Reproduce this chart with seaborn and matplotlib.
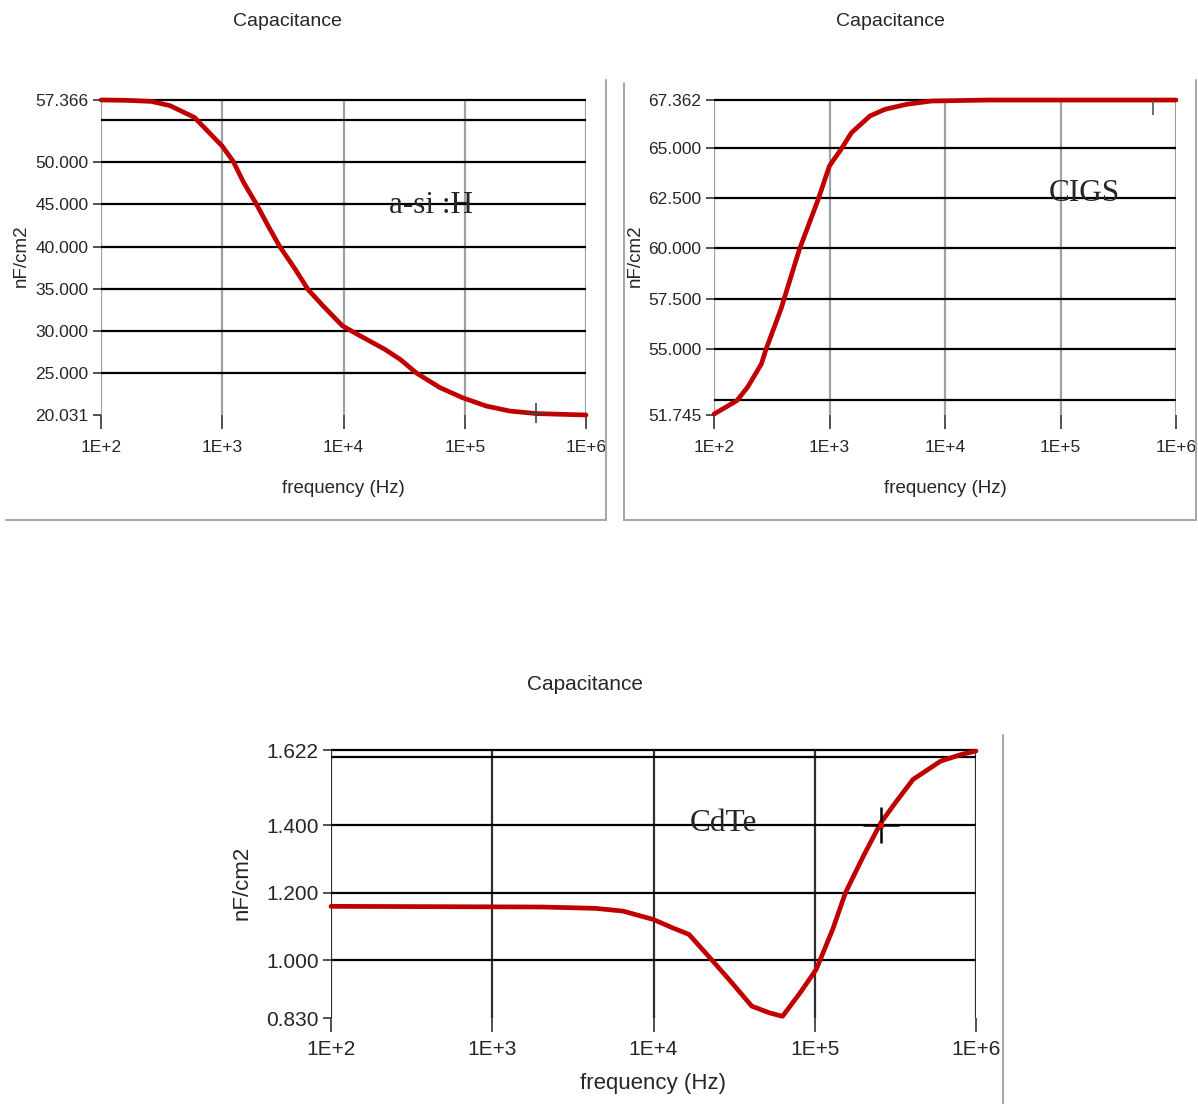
import matplotlib
matplotlib.use('Agg')
import matplotlib.pyplot as plt
from matplotlib.lines import Line2D
import seaborn as sns
import pandas as pd

# Données (fréquence en Hz, capacité en nF/cm2)
freq_asi = [100, 160, 260, 370, 590, 780, 1000, 1230, 1500, 1900, 2400, 2950, 4000, 5100,
            6800, 9800, 13000, 22000, 29500, 40000, 62000, 95000, 150000, 235000, 390000, 1000000]
cap_asi = [57.37, 57.33, 57.2, 56.7, 55.3, 53.5, 51.9, 50.1, 47.6, 45.1, 42.4, 40.1, 37.3, 34.9,
           32.95, 30.6, 29.6, 27.8, 26.6, 25.0, 23.3, 22.1, 21.1, 20.5, 20.2, 20.03]

freq_cigs = [100, 158, 195, 257, 282, 380, 550, 794, 1000, 1260, 1550, 2240, 3020, 4680,
             7590, 23400, 1000000]
cap_cigs = [51.79, 52.46, 53.12, 54.27, 55.0, 57.0, 59.97, 62.4, 64.1, 64.92, 65.74, 66.57,
            66.9, 67.15, 67.31, 67.36, 67.36]

freq_cdte = [100, 2040, 4370, 6460, 10000, 13200, 16600, 21900, 29500, 40700, 52500, 63100,
             81300, 102000, 129000, 155000, 200000, 257000, 316000, 407000, 603000, 813000, 1000000]
cap_cdte = [1.160, 1.158, 1.154, 1.146, 1.121, 1.096, 1.077, 1.013, 0.943, 0.865, 0.845, 0.835,
            0.905, 0.973, 1.091, 1.200, 1.308, 1.407, 1.466, 1.535, 1.589, 1.609, 1.619]

xticks = [1e2, 1e3, 1e4, 1e5, 1e6]
xlabels = ['1E+2', '1E+3', '1E+4', '1E+5', '1E+6']

yticks_asi = [57.366, 50, 45, 40, 35, 30, 25, 20.031]
ylabels_asi = ['57.366', '50.000', '45.000', '40.000', '35.000', '30.000', '25.000', '20.031']
grid_asi = [57.366, 55, 50, 45, 40, 35, 30, 25]

yticks_cigs = [67.362, 65, 62.5, 60, 57.5, 55, 51.745]
ylabels_cigs = ['67.362', '65.000', '62.500', '60.000', '57.500', '55.000', '51.745']
grid_cigs = [67.362, 65, 62.5, 60, 57.5, 55, 52.5]

yticks_cdte = [1.622, 1.4, 1.2, 1.0, 0.830]
ylabels_cdte = ['1.622', '1.400', '1.200', '1.000', '0.830']
grid_cdte = [1.622, 1.6, 1.4, 1.2, 1.0]

sns.set_style('white')
arial = ['Liberation Sans', 'DejaVu Sans']
serif = ['Liberation Serif', 'DejaVu Serif']

W, H = 1198, 1104
fig = plt.figure(figsize=(W / 100, H / 100), dpi=100)
RED = '#c00000'


def box(x0, y0, x1, y1):
    # position en pixels -> fraction de figure
    return [x0 / W, 1 - y1 / H, (x1 - x0) / W, (y1 - y0) / H]


def panel(rect, freq, cap, yticks, ylabels, grid_y, fs, fs_ylab, vcolor, ylab_x, xlab_y, xpad):
    ax = fig.add_axes(rect)
    df = pd.DataFrame({'f': freq, 'c': cap})
    sns.lineplot(data=df, x='f', y='c', ax=ax, color=RED, lw=3.4, clip_on=False, zorder=5)
    ax.set_xscale('log')
    ax.set_xlim(1e2, 1e6)
    ax.set_ylim(yticks[-1], yticks[0])
    for s in ax.spines.values():
        s.set_visible(False)
    ax.grid(axis='x', color=vcolor, lw=1.6)
    ax.hlines(grid_y, 1e2, 1e6, color='black', lw=1.6, clip_on=False, zorder=2)
    ax.set_xticks(xticks)
    ax.set_xticklabels(xlabels, family=arial, fontsize=fs)
    ax.minorticks_off()
    ax.set_yticks(yticks)
    ax.set_yticklabels(ylabels, family=arial, fontsize=fs)
    ax.tick_params(axis='x', bottom=True, length=10, width=1.2, color='#333', pad=xpad)
    ax.tick_params(axis='y', left=True, length=6, width=1.2, color='#333', pad=3)
    ax.set_xlabel('frequency (Hz)', family=arial, fontsize=fs + 1)
    ax.set_ylabel('nF/cm2', family=arial, fontsize=fs_ylab)
    ax.xaxis.set_label_coords(0.5, xlab_y)
    ax.yaxis.set_label_coords(ylab_x, 0.505)
    return ax


ax1 = panel(box(101, 100, 586, 415), freq_asi, cap_asi, yticks_asi, ylabels_asi, grid_asi,
            12.5, 13.5, '#a0a0a0', -0.146, -0.205, 8)
ax1.text(53000, 44.9, 'a-si :H', family=serif, fontsize=22.5, ha='center', va='center')
ax1.plot([390000], [20.3], marker='+', ms=14, mew=1.2, color='#444', clip_on=False, zorder=6)

ax2 = panel(box(714, 100, 1176, 415), freq_cigs, cap_cigs, yticks_cigs, ylabels_cigs, grid_cigs,
            12.5, 13.5, '#a0a0a0', -0.152, -0.205, 8)
ax2.text(162000, 62.75, 'CIGS', family=serif, fontsize=22.5, ha='center', va='center')
ax2.plot([630000], [67.0], marker='|', ms=12, mew=1.2, color='#555', zorder=6)

ax3 = panel(box(331, 750, 976, 1018), freq_cdte, cap_cdte, yticks_cdte, ylabels_cdte, grid_cdte,
            15, 16, '#303030', -0.121, -0.205, 5.5)
ax3.text(27000, 1.406, 'CdTe', family=serif, fontsize=22.5, ha='center', va='center')
ax3.plot([257000], [1.40], marker='+', ms=26, mew=1.8, color='black', zorder=7)
ax3.plot([257000], [1.40], marker='s', ms=3, color='red', zorder=8)

# titres
fig.text(287 / W, 1 - 22 / H, 'Capacitance', family=arial, fontsize=14, ha='center', va='center')
fig.text(890 / W, 1 - 22 / H, 'Capacitance', family=arial, fontsize=14, ha='center', va='center')
fig.text(585 / W, 1 - 685 / H, 'Capacitance', family=arial, fontsize=15, ha='center', va='center')

# cadres gris des fenêtres
frames = [[(6, 520), (606, 520)], [(606, 80), (606, 520)],
          [(624, 83), (624, 520)], [(624, 520), (1196, 520)], [(1196, 80), (1196, 520)],
          [(1003, 735), (1003, 1104)]]
for (xa, ya), (xb, yb) in frames:
    fig.add_artist(Line2D([xa / W, xb / W], [1 - ya / H, 1 - yb / H], transform=fig.transFigure,
                          color='#a8a8a8', lw=1.5))

plt.savefig('out.png', dpi=100)
